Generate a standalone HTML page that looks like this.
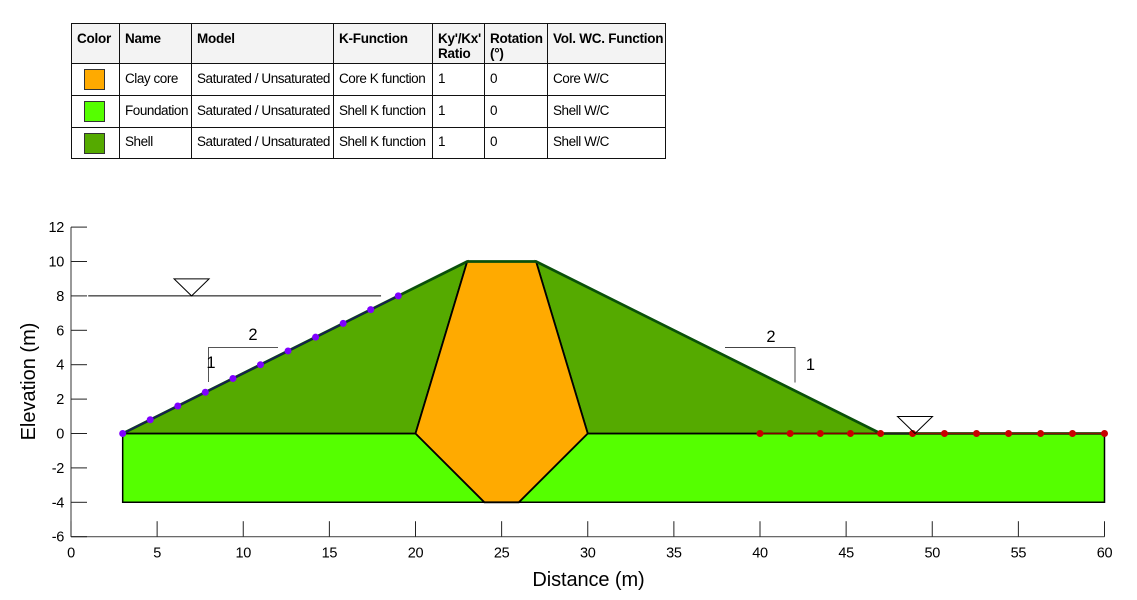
<!DOCTYPE html>
<html lang="en">
<head>
<meta charset="utf-8">
<title>Embankment seepage model</title>
<style>
html,body{margin:0;padding:0;background:#fff;width:1137px;height:600px;overflow:hidden}
#page{position:relative;width:1137px;height:600px;font-family:"Liberation Sans",sans-serif;color:#000}
#materials{position:absolute;left:71px;top:23px;border-collapse:collapse;table-layout:fixed;width:594px;font-size:13.5px;letter-spacing:-.45px}
#materials td,#materials th{border:1px solid #111;padding:0 0 0 5px;overflow:hidden;white-space:nowrap;text-align:left}
#materials th{background:#f3f3f3;font-weight:bold;vertical-align:top;padding-top:7px;height:32px;line-height:15px;font-size:13.5px;letter-spacing:-.25px}
#materials td{height:29px;line-height:29px;padding-bottom:2px}
#materials td.swc{height:31px;padding-bottom:0;padding-left:0;line-height:0}
#materials tr.last td{height:28px;line-height:28px}
#materials tr.last td.swc{height:30px}
.sw{display:block;width:19px;height:19px;margin:0 0 0 12px;border:1px solid #333}
#chart{position:absolute;left:0;top:0}
</style>
</head>
<body>
<div id="page">
<table id="materials">
<colgroup><col style="width:48px"><col style="width:72px"><col style="width:142px"><col style="width:99px"><col style="width:52px"><col style="width:63px"><col style="width:118px"></colgroup>
<tr><th>Color</th><th>Name</th><th>Model</th><th>K-Function</th><th>Ky'/Kx'<br>Ratio</th><th>Rotation<br>(°)</th><th>Vol. WC. Function</th></tr>
<tr><td class="swc"><span class="sw" style="background:#ffaa00"></span></td><td>Clay core</td><td>Saturated / Unsaturated</td><td>Core K function</td><td>1</td><td>0</td><td>Core W/C</td></tr>
<tr><td class="swc"><span class="sw" style="background:#55ff00"></span></td><td>Foundation</td><td>Saturated / Unsaturated</td><td>Shell K function</td><td>1</td><td>0</td><td>Shell W/C</td></tr>
<tr class="last"><td class="swc"><span class="sw" style="background:#55aa00"></span></td><td>Shell</td><td>Saturated / Unsaturated</td><td>Shell K function</td><td>1</td><td>0</td><td>Shell W/C</td></tr>
</table>
<svg id="chart" width="1137" height="600" viewBox="0 0 1137 600" xmlns="http://www.w3.org/2000/svg" font-family="'Liberation Sans',sans-serif"></svg>
</div>
<script>
const xTicks = [0,5,10,15,20,25,30,35,40,45,50,55,60];
const yTicks = [12,10,8,6,4,2,0,-2,-4,-6];
const foundationX = [3,20,24,26,30,60,60,3];
const foundationY = [0,0,-4,-4,0,0,-4,-4];
const shellLeftX = [3,23,20];
const shellLeftY = [0,10,0];
const shellRightX = [27,47,30];
const shellRightY = [10,0,0];
const coreX = [23,27,30,26,24,20];
const coreY = [10,10,0,-4,-4,0];
const crestX = [3,23,27,47,60];
const crestY = [0,10,10,0,0];
const upstreamX = [3,4.6,6.2,7.8,9.4,11,12.6,14.2,15.8,17.4,19];
const upstreamY = [0,0.8,1.6,2.4,3.2,4,4.8,5.6,6.4,7.2,8];
const drainX = [40,41.75,43.5,45.25,47,48.86,50.71,52.57,54.43,56.29,58.14,60];
const drainY = [0,0,0,0,0,0,0,0,0,0,0,0];
const waterUpX = [1,18];
const waterUpY = [8,8];
const waterDownX = [47,49];
const waterDownY = [0,0];

const svg = document.getElementById('chart');
const NS = 'http://www.w3.org/2000/svg';
const sx = v => 71 + v * 17.225;
const sy = v => 433.5 - v * 17.2;
function make(tag, attrs, txt){
  const el = document.createElementNS(NS, tag);
  for (const k in attrs) el.setAttribute(k, attrs[k]);
  if (txt !== undefined) el.textContent = txt;
  svg.appendChild(el);
  return el;
}
const pts = (xs, ys) => xs.map((x,i) => sx(x).toFixed(2) + ',' + sy(ys[i]).toFixed(2)).join(' ');
let el;

el = make('polygon',{points:pts(foundationX,foundationY),fill:'#55ff00',stroke:'#000','stroke-width':1.5});


el = make('polygon',{points:pts(shellLeftX,shellLeftY),fill:'#55aa00',stroke:'#000','stroke-width':1.8});


el = make('polygon',{points:pts(shellRightX,shellRightY),fill:'#55aa00',stroke:'#000','stroke-width':1.8});


el = make('polygon',{points:pts(coreX,coreY),fill:'#ffaa00',stroke:'#000','stroke-width':1.8});


el = make('polyline',{points:pts(crestX,crestY),fill:'none',stroke:'#0a500a','stroke-width':2.7});



el = make('polyline',{points:pts(upstreamX,upstreamY),fill:'none',stroke:'#1a1a5a','stroke-width':1.6});


el = make('polyline',{points:pts(drainX,drainY),fill:'none',stroke:'#b00000','stroke-width':1.6,'stroke-opacity':.75});


el = make('polyline',{points:pts(waterDownX,waterDownY),fill:'none',stroke:'#222','stroke-width':1.6});



upstreamX.forEach((x,i)=>{
  const c = make('circle',{cx:sx(x),cy:sy(upstreamY[i]),r:3.5,fill:'#7f00ff'});
  
  
});
drainX.forEach((x,i)=>{
  const c = make('circle',{cx:sx(x),cy:sy(drainY[i]),r:3.5,fill:'#c80000'});
  
  
});

el = make('polyline',{points:pts(waterUpX,waterUpY),fill:'none',stroke:'#000','stroke-width':1});



function triangle(apexX, apexY, name){
  const ax = sx(apexX), ay = sy(apexY);
  const t = make('polygon',{points:`${ax-17.5},${ay-17} ${ax+17.5},${ay-17} ${ax},${ay}`,fill:'none',stroke:'#000','stroke-width':1});
  
  
}
triangle(7,8,'upstream-water-marker');
triangle(49,0,'downstream-water-marker');

el = make('polyline',{points:'208.5,382 208.5,347.5 278,347.5',fill:'none',stroke:'#555','stroke-width':1});


el = make('polyline',{points:'725,347.5 795,347.5 795,382.5',fill:'none',stroke:'#444','stroke-width':1});


el = make('text',{x:253,y:340,'font-size':16.5,'text-anchor':'middle'},'2');


el = make('text',{x:211,y:368,'font-size':16.5,'text-anchor':'middle'},'1');


el = make('text',{x:771,y:342,'font-size':16.5,'text-anchor':'middle'},'2');


el = make('text',{x:810.5,y:370,'font-size':16.5,'text-anchor':'middle'},'1');



el = make('line',{x1:sx(0),y1:sy(12),x2:sx(0),y2:sy(-6),stroke:'#333','stroke-width':1});


el = make('line',{x1:sx(0),y1:sy(-6),x2:sx(60),y2:sy(-6),stroke:'#555','stroke-width':1.2});



yTicks.forEach(v=>{
  const t = make('line',{x1:sx(0),y1:sy(v),x2:sx(0)+16,y2:sy(v),stroke:'#222','stroke-width':1});
  
  
  const l = make('text',{x:64,y:sy(v)+5,'font-size':14.5,'text-anchor':'end','letter-spacing':'-.3'},String(v));
  
  
});
xTicks.forEach(v=>{
  const t = make('line',{x1:sx(v),y1:sy(-6),x2:sx(v),y2:sy(-6)-15.5,stroke:'#222','stroke-width':1});
  
  
  const l = make('text',{x:sx(v),y:557.5,'font-size':14.5,'text-anchor':'middle','letter-spacing':'-.3'},String(v));
  
  
});

el = make('text',{x:588.5,y:586,'font-size':20,'text-anchor':'middle','letter-spacing':'-.1'},'Distance (m)');


el = make('text',{x:0,y:0,'font-size':20,'text-anchor':'middle',transform:'translate(35,381.5) rotate(-90)'},'Elevation (m)');


</script>
</body>
</html>
